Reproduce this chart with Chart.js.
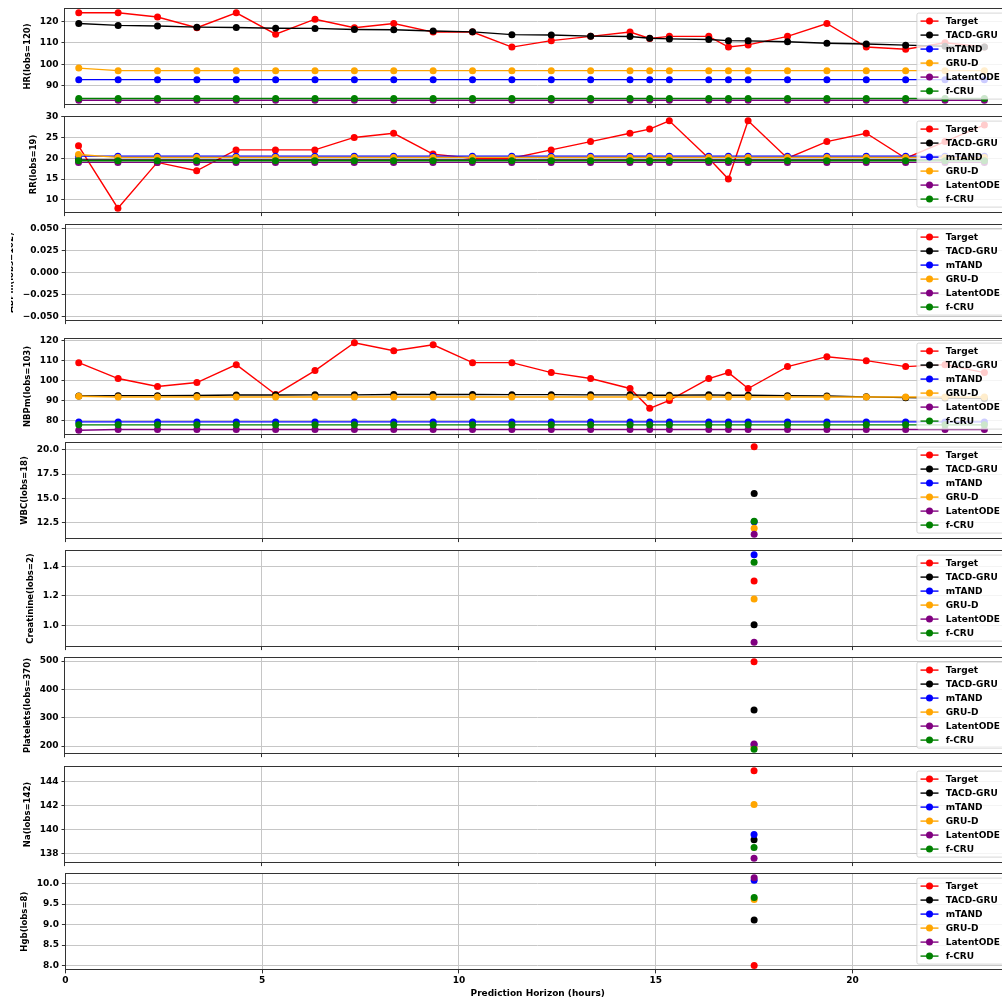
<!DOCTYPE html>
<html>
<head>
<meta charset="utf-8">
<script src="https://cdn.jsdelivr.net/npm/chart.js@4.4.1/dist/chart.umd.min.js"></script>
<style>
  html, body { margin: 0; padding: 0; background: #ffffff; width: 1002px; height: 1001px; overflow: hidden; }
  .panel { position: absolute; }
</style>
</head>
<body>
<script>
// ---- model names and colours ----
const MODELS = ['Target', 'TACD-GRU', 'mTAND', 'GRU-D', 'LatentODE', 'f-CRU'];
const COLORS = ['#ff0000', '#000000', '#0000ff', '#ffa500', '#800080', '#008000'];

// ---- time axis (hours) ----
const X_TICKS = [0, 5, 10, 15, 20];
const VITAL_TIMES = [0.35, 1.35, 2.35, 3.35, 4.35, 5.35, 6.35, 7.35, 8.35, 9.35, 10.35, 11.35, 12.35,
                     13.35, 14.35, 14.85, 15.35, 16.35, 16.85, 17.35, 18.35, 19.35, 20.35, 21.35, 22.35, 23.35];
const LAB_TIMES = [17.5];

// ---- HR ----
const HR_TARGET = [124, 124, 122, 117, 124, 114, 121, 117, 119, 115, 115, 108, 111, 113, 115, 112, 113, 113, 108, 109, 113, 119, 108, 107, 110, 108];
const HR_TACD   = [119.0, 118.1, 117.8, 117.3, 117.1, 116.8, 116.7, 116.2, 116.1, 115.5, 115.1, 113.8, 113.6, 113.1, 112.9, 112.1, 111.8, 111.5, 111.0, 110.9, 110.5, 109.8, 109.4, 108.9, 108.4, 108.0];
const HR_MTAND  = [92.8, 92.8, 92.8, 92.8, 92.8, 92.8, 92.8, 92.8, 92.8, 92.8, 92.8, 92.8, 92.8, 92.8, 92.8, 92.8, 92.8, 92.8, 92.8, 92.8, 92.8, 92.8, 92.8, 92.8, 92.8, 92.8];
const HR_GRUD   = [98.2, 97.0, 97.0, 97.0, 97.0, 97.0, 97.0, 97.0, 97.0, 97.0, 97.0, 97.0, 97.0, 97.0, 97.0, 97.0, 97.0, 97.0, 97.0, 97.0, 97.0, 97.0, 97.0, 97.0, 97.0, 97.0];
const HR_LODE   = [83.2, 83.2, 83.2, 83.2, 83.2, 83.2, 83.2, 83.2, 83.2, 83.2, 83.2, 83.2, 83.2, 83.2, 83.2, 83.2, 83.2, 83.2, 83.2, 83.2, 83.2, 83.2, 83.2, 83.2, 83.2, 83.2];
const HR_FCRU   = [84.0, 84.0, 84.0, 84.0, 84.0, 84.0, 84.0, 84.0, 84.0, 84.0, 84.0, 84.0, 84.0, 84.0, 84.0, 84.0, 84.0, 84.0, 84.0, 84.0, 84.0, 84.0, 84.0, 84.0, 84.0, 84.0];
const HR_TICKS  = [90, 100, 110, 120];

// ---- RR ----
const RR_TARGET = [23, 8, 19, 17, 22, 22, 22, 25, 26, 21, 20, 20, 22, 24, 26, 27, 29, 20, 15, 29, 20, 24, 26, 20, 24, 28];
const RR_TACD   = [19.6, 19.6, 19.6, 19.6, 19.6, 19.6, 19.6, 19.6, 19.6, 19.6, 19.6, 19.6, 19.6, 19.6, 19.6, 19.6, 19.6, 19.6, 19.6, 19.6, 19.6, 19.6, 19.6, 19.6, 19.6, 19.6];
const RR_MTAND  = [20.5, 20.5, 20.5, 20.5, 20.5, 20.5, 20.5, 20.5, 20.5, 20.5, 20.5, 20.5, 20.5, 20.5, 20.5, 20.5, 20.5, 20.5, 20.5, 20.5, 20.5, 20.5, 20.5, 20.5, 20.5, 20.5];
const RR_GRUD   = [20.9, 20.2, 20.2, 20.2, 20.2, 20.2, 20.2, 20.2, 20.2, 20.2, 20.2, 20.2, 20.2, 20.2, 20.2, 20.2, 20.2, 20.2, 20.2, 20.2, 20.2, 20.2, 20.2, 20.2, 20.2, 20.2];
const RR_LODE   = [19.0, 19.0, 19.0, 19.0, 19.0, 19.0, 19.0, 19.0, 19.0, 19.0, 19.0, 19.0, 19.0, 19.0, 19.0, 19.0, 19.0, 19.0, 19.0, 19.0, 19.0, 19.0, 19.0, 19.0, 19.0, 19.0];
const RR_FCRU   = [19.4, 19.4, 19.4, 19.4, 19.4, 19.4, 19.4, 19.4, 19.4, 19.4, 19.4, 19.4, 19.4, 19.4, 19.4, 19.4, 19.4, 19.4, 19.4, 19.4, 19.4, 19.4, 19.4, 19.4, 19.4, 19.4];
const RR_TICKS  = [10, 15, 20, 25, 30];

// ---- ABPm (no observations in the window) ----
const ABPM_VALUES = [];
const ABPM_TICKS  = [-0.05, -0.025, 0, 0.025, 0.05];

// ---- NBPm ----
const NBPM_TARGET = [109, 101, 97, 99, 108, 93, 105, 119, 115, 118, 109, 109, 104, 101, 96, 86, 90, 101, 104, 96, 107, 112, 110, 107, 108, 104];
const NBPM_TACD   = [92.2, 92.4, 92.4, 92.5, 92.7, 92.7, 92.8, 92.8, 93.0, 93.0, 93.0, 92.9, 92.9, 92.8, 92.8, 92.6, 92.6, 92.8, 92.6, 92.6, 92.4, 92.2, 91.8, 91.4, 91.2, 91.0];
const NBPM_MTAND  = [79.2, 79.2, 79.2, 79.2, 79.2, 79.2, 79.2, 79.2, 79.2, 79.2, 79.2, 79.2, 79.2, 79.2, 79.2, 79.2, 79.2, 79.2, 79.2, 79.2, 79.2, 79.2, 79.2, 79.2, 79.2, 79.2];
const NBPM_GRUD   = [92.1, 91.7, 91.7, 91.7, 91.7, 91.7, 91.7, 91.7, 91.7, 91.7, 91.7, 91.7, 91.7, 91.7, 91.7, 91.7, 91.7, 91.7, 91.7, 91.7, 91.7, 91.7, 91.7, 91.7, 91.7, 91.7];
const NBPM_LODE   = [75.0, 75.4, 75.4, 75.4, 75.4, 75.4, 75.4, 75.4, 75.4, 75.4, 75.4, 75.4, 75.4, 75.4, 75.4, 75.4, 75.4, 75.4, 75.4, 75.4, 75.4, 75.4, 75.4, 75.4, 75.4, 75.4];
const NBPM_FCRU   = [77.7, 77.7, 77.7, 77.7, 77.7, 77.7, 77.7, 77.7, 77.7, 77.7, 77.7, 77.7, 77.7, 77.7, 77.7, 77.7, 77.7, 77.7, 77.7, 77.7, 77.7, 77.7, 77.7, 77.7, 77.7, 77.7];
const NBPM_TICKS  = [80, 90, 100, 110, 120];

// ---- labs: one value per model (MODELS order) at LAB_TIMES ----
const WBC_VALUES   = [20.33, 15.49, 12.55, 11.90, 11.27, 12.61];
const WBC_TICKS    = [12.5, 15.0, 17.5, 20.0];
const CREAT_VALUES = [1.30, 1.004, 1.478, 1.178, 0.886, 1.428];
const CREAT_TICKS  = [1.0, 1.2, 1.4];
const PLT_VALUES   = [497.5, 327.5, 205, 195, 207, 189];
const PLT_TICKS    = [200, 300, 400, 500];
const NA_VALUES    = [144.94, 139.15, 139.6, 142.1, 137.6, 138.5];
const NA_TICKS     = [138, 140, 142, 144];
const HGB_VALUES   = [8.0, 9.11, 10.08, 9.61, 10.14, 9.66];
const HGB_TICKS    = [8.0, 8.5, 9.0, 9.5, 10.0];

const X_TITLE = 'Prediction Horizon (hours)';

// ---- panel definitions ----
const PANELS = [
  { label: 'HR(lobs=120)',        times: VITAL_TIMES, series: [HR_TARGET, HR_TACD, HR_MTAND, HR_GRUD, HR_LODE, HR_FCRU], ticks: HR_TICKS, dec: 0 },
  { label: 'RR(lobs=19)',         times: VITAL_TIMES, series: [RR_TARGET, RR_TACD, RR_MTAND, RR_GRUD, RR_LODE, RR_FCRU], ticks: RR_TICKS, dec: 0 },
  { label: 'ABPm(lobs=102)',      times: VITAL_TIMES, series: MODELS.map(() => ABPM_VALUES), ticks: ABPM_TICKS, dec: 3, clipX: 11.5 },
  { label: 'NBPm(lobs=103)',      times: VITAL_TIMES, series: [NBPM_TARGET, NBPM_TACD, NBPM_MTAND, NBPM_GRUD, NBPM_LODE, NBPM_FCRU], ticks: NBPM_TICKS, dec: 0 },
  { label: 'WBC(lobs=18)',        times: LAB_TIMES, series: WBC_VALUES.map(v => [v]),   ticks: WBC_TICKS, dec: 1 },
  { label: 'Creatinine(lobs=2)',  times: LAB_TIMES, series: CREAT_VALUES.map(v => [v]), ticks: CREAT_TICKS, dec: 1 },
  { label: 'Platelets(lobs=370)', times: LAB_TIMES, series: PLT_VALUES.map(v => [v]),   ticks: PLT_TICKS, dec: 0 },
  { label: 'Na(lobs=142)',        times: LAB_TIMES, series: NA_VALUES.map(v => [v]),    ticks: NA_TICKS, dec: 0 },
  { label: 'Hgb(lobs=8)',         times: LAB_TIMES, series: HGB_VALUES.map(v => [v]),   ticks: HGB_TICKS, dec: 1 },
];

// ---- layout of the stacked axes (page pixels) ----
const PLOT_LEFT = 65;
const PLOT_W = 945;
const PANEL_TOP = [8, 116, 224, 338, 442, 550, 657, 766, 873];
const PANEL_H = 96;
const RIGHT_PAD = 12;

const FONT = '"DejaVu Sans", "Liberation Sans", sans-serif';
const GRID = '#c6c6c6';
const SPINE = '#333333';
Chart.defaults.font.family = FONT;
Chart.defaults.color = '#000000';

function fmt(v, d) {
  const s = Number(v).toFixed(d);
  return s.charAt(0) === '-' ? '\u2212' + s.slice(1) : s;
}

// autoscaled limits with a 5% margin; empty axes get the default +/-0.055
function axisLimits(seriesList) {
  const vals = seriesList.flat().filter(v => v !== null && v !== undefined);
  if (!vals.length) return [-0.055, 0.055];
  const lo = Math.min(...vals), hi = Math.max(...vals);
  const m = (hi - lo) * 0.05;
  return [lo - m, hi + m];
}

function crisp(v) { return Math.round(v - 0.5) + 0.5; }

// full box around the plotting area
const framePlugin = {
  id: 'frame',
  afterDatasetsDraw(chart) {
    const { ctx, chartArea: a } = chart;
    ctx.save();
    ctx.strokeStyle = SPINE;
    ctx.lineWidth = 1;
    const l = crisp(a.left), t = crisp(a.top), r = crisp(a.right), b = crisp(a.bottom);
    ctx.strokeRect(l, t, r - l, b - t);
    ctx.restore();
  }
};

function roundRectPath(ctx, x, y, w, h, r) {
  ctx.beginPath();
  ctx.moveTo(x + r, y);
  ctx.lineTo(x + w - r, y);
  ctx.arcTo(x + w, y, x + w, y + r, r);
  ctx.lineTo(x + w, y + h - r);
  ctx.arcTo(x + w, y + h, x + w - r, y + h, r);
  ctx.lineTo(x + r, y + h);
  ctx.arcTo(x, y + h, x, y + h - r, r);
  ctx.lineTo(x, y + r);
  ctx.arcTo(x, y, x + r, y, r);
  ctx.closePath();
}

// legend box inside the upper-right corner of the plotting area
const insetLegend = {
  id: 'insetLegend',
  afterDraw(chart) {
    const { ctx, chartArea: a } = chart;
    const ds = chart.data.datasets;
    const fs = 9;
    ctx.save();
    ctx.font = 'bold ' + fs + 'px ' + FONT;
    const maxW = Math.max(...ds.map(d => ctx.measureText(d.label).width));
    const pad = 0.4 * fs, handle = 2 * fs, gap = 0.8 * fs, row = 14;
    const w = pad + handle + gap + maxW + pad;
    const h = ds.length * row + 2;
    const x0 = a.right - 0.5 * fs - w - 2;
    const y0 = a.top + 4.7;
    roundRectPath(ctx, x0, y0, w, h, 0.2 * fs);
    ctx.fillStyle = 'rgba(255,255,255,0.8)';
    ctx.fill();
    ctx.strokeStyle = 'rgba(204,204,204,0.8)';
    ctx.lineWidth = 1;
    ctx.stroke();
    ds.forEach((d, i) => {
      const cy = y0 + 8 + i * row;
      const hx = x0 + pad;
      ctx.strokeStyle = d.borderColor;
      ctx.lineWidth = d.borderWidth;
      ctx.beginPath();
      ctx.moveTo(hx, cy);
      ctx.lineTo(hx + handle, cy);
      ctx.stroke();
      ctx.fillStyle = d.pointBackgroundColor;
      ctx.beginPath();
      ctx.arc(hx + handle / 2, cy, d.pointRadius, 0, Math.PI * 2);
      ctx.fill();
      ctx.fillStyle = '#000000';
      ctx.textAlign = 'left';
      ctx.textBaseline = 'middle';
      ctx.fillText(d.label, hx + handle + gap, cy + 0.5);
    });
    ctx.restore();
  }
};

function makeConfig(p, isLast) {
  const lim = axisLimits(p.series);
  const datasets = MODELS.map((name, k) => ({
    label: name,
    data: p.series[k].map((y, i) => ({ x: p.times[i], y: y })),
    borderColor: COLORS[k],
    backgroundColor: COLORS[k],
    pointBackgroundColor: COLORS[k],
    pointBorderWidth: 0,
    pointRadius: 3.5,
    pointHoverRadius: 3.5,
    borderWidth: 1.4,
    tension: 0,
    order: MODELS.length - k
  }));
  const tickFont = { size: 9, weight: 'bold' };
  const gridOpts = { color: GRID, lineWidth: 1, drawTicks: true, tickLength: 3.5, tickColor: SPINE, tickWidth: 1 };
  return {
    type: 'line',
    data: { datasets },
    plugins: [framePlugin, insetLegend],
    options: {
      responsive: true,
      maintainAspectRatio: false,
      animation: false,
      events: [],
      layout: { padding: { top: 8, right: RIGHT_PAD, bottom: 2, left: 0 } },
      plugins: { legend: { display: false }, tooltip: { enabled: false } },
      scales: {
        x: {
          type: 'linear', min: 0, max: 24,
          afterBuildTicks: s => { s.ticks = X_TICKS.map(v => ({ value: v })); },
          grid: gridOpts,
          border: { display: false },
          ticks: { display: isLast, font: tickFont, color: '#000', padding: 2, maxRotation: 0, autoSkip: false,
                   callback: v => String(v) },
          title: { display: isLast, text: X_TITLE, color: '#000', font: { size: 9, weight: 'bold' },
                   padding: { top: 0, bottom: 0 } }
        },
        y: {
          type: 'linear', min: lim[0], max: lim[1],
          afterBuildTicks: s => { s.ticks = p.ticks.map(v => ({ value: v })); },
          grid: gridOpts,
          border: { display: false },
          ticks: { font: tickFont, color: '#000', padding: 3, autoSkip: false,
                   callback: v => fmt(v, p.dec) },
          title: { display: true, text: p.label, color: '#000', font: { size: 8.5, weight: 'bold' },
                   padding: { top: 0, bottom: 3.5 } }
        }
      }
    }
  };
}

PANELS.forEach((p, idx) => {
  const isLast = idx === PANELS.length - 1;
  const wrap = document.createElement('div');
  wrap.className = 'panel';
  const W0 = 1100, H0 = 200;
  wrap.style.left = '0px';
  wrap.style.top = '0px';
  wrap.style.width = W0 + 'px';
  wrap.style.height = H0 + 'px';
  const canvas = document.createElement('canvas');
  wrap.appendChild(canvas);
  document.body.appendChild(wrap);
  const chart = new Chart(canvas, makeConfig(p, isLast));
  // place the canvas so every plotting area shares the same page frame
  const a = chart.chartArea;
  const below = H0 - a.bottom;
  const left = Math.round(PLOT_LEFT - a.left);
  const top = Math.round(PANEL_TOP[idx] - a.top);
  const w = Math.round(a.left + PLOT_W + RIGHT_PAD);
  const h = Math.round(a.top + PANEL_H + below);
  wrap.style.left = left + 'px';
  wrap.style.top = top + 'px';
  wrap.style.width = w + 'px';
  wrap.style.height = h + 'px';
  if (p.clipX !== undefined) {
    // the long label runs into the page edge on this row
    wrap.style.clipPath = 'inset(0 0 0 ' + Math.max(0, p.clipX - left) + 'px)';
  }
  chart.resize(w, h);
});
</script>
</body>
</html>
